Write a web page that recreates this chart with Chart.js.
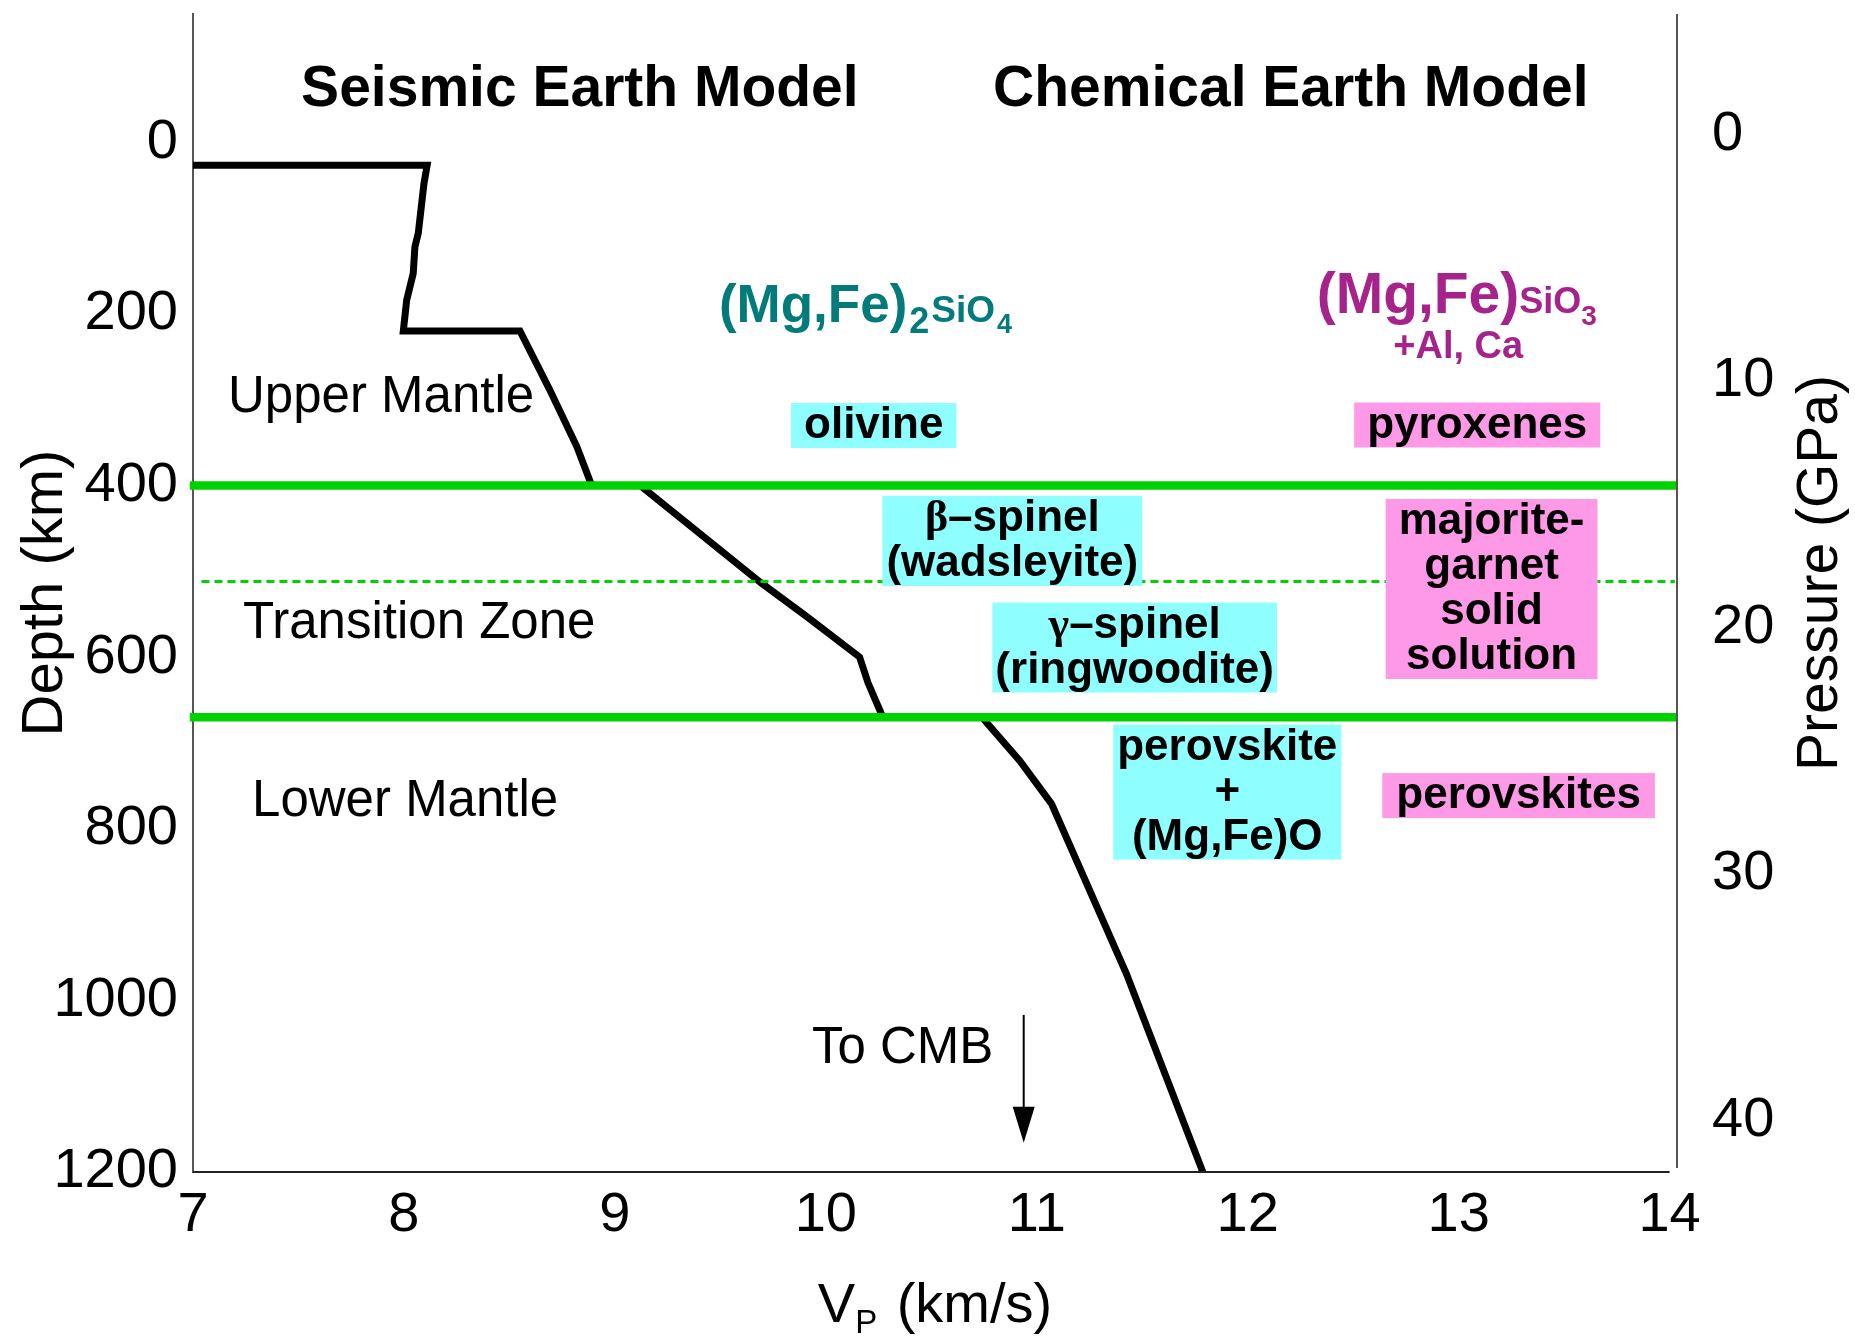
<!DOCTYPE html>
<html>
<head>
<meta charset="utf-8">
<title>Seismic and Chemical Earth Model</title>
<script src="https://cdn.jsdelivr.net/npm/chart.js@4.4.1/dist/chart.umd.min.js"></script>
<style>
  html, body { margin: 0; padding: 0; background: #ffffff; }
  canvas { display: block; }
</style>
</head>
<body>
<canvas id="chart" width="1855" height="1339"></canvas>
<script>
// ---- P-wave velocity profile through the upper ~1200 km ----
const vpProfile    = [7.00, 8.11, 8.095, 8.068, 8.052, 8.044, 8.013, 7.997, 8.55, 8.69, 8.82, 8.89, 9.12, 9.69, 9.905, 10.16, 10.20, 10.27, 10.74, 10.92, 11.07, 11.425, 11.787];
const depthProfile = [27,   27,   48,    106,   122,   153,   184,   220,   220,  288,  355,  400,  400,  513,  552,   600,   630,   670,   670,   721,   771,   969,    1200];

// Seismic discontinuities (km)
const majorDiscontinuities = [400, 670];
const minorDiscontinuities = [512];

// Axis ticks
const vpTicks       = [7, 8, 9, 10, 11, 12, 13, 14];
const depthTicks    = [0, 200, 400, 600, 800, 1000, 1200];
const pressureTicks = [0, 10, 20, 30, 40];

// Mineral phases, olivine-type (Mg,Fe)2SiO4 and pyroxene-type (Mg,Fe)SiO3
const olivinePhases  = [['olivine'], ['β–spinel', '(wadsleyite)'], ['γ–spinel', '(ringwoodite)'], ['perovskite', '+', '(Mg,Fe)O']];
const pyroxenePhases = [['pyroxenes'], ['majorite-', 'garnet', 'solid', 'solution'], ['perovskites']];

// Zone names
const zoneNames = ['Upper Mantle', 'Transition Zone', 'Lower Mantle'];

// ---- styling / layout ----
const SANS  = '"Liberation Sans", Arial, Helvetica, sans-serif';
const SERIF = '"Liberation Serif", "Times New Roman", serif';
const GREEN = '#00d200';
const CYAN  = '#8ffefe';
const PINK  = '#fd99e6';
const TEAL  = '#047b7b';
const PLUM  = '#a6238c';
const LINE_H = 45;

const VP_MIN = 7, VP_EDGE = 14.035;
const DEPTH_TOP = -149.3, DEPTH_BOTTOM = 1200;
const P_TOP = -4.87, P_BOTTOM = 42.09;

// split a phase line so Greek letters use a serif face
function phaseSegments(text) {
  const segs = [];
  for (const ch of text) {
    const greek = /[α-ωΑ-Ω]/.test(ch);
    const font = greek ? `bold 44px ${SERIF}` : `bold 44px ${SANS}`;
    const last = segs[segs.length - 1];
    if (last && last.f === font) last.t += ch; else segs.push({ t: ch, f: font });
  }
  return segs;
}

// placement of the phase boxes (centre in km/s, km) and side padding
const boxPlacement = [
  { lines: olivinePhases[0],  at: [10.227, 330.2], padX: 13, fill: CYAN },
  { lines: olivinePhases[1],  at: [10.884, 464.8], padX: 4,  fill: CYAN },
  { lines: olivinePhases[2],  at: [11.464, 588.9], padX: 3,  fill: CYAN },
  { lines: olivinePhases[3],  at: [11.903, 757.3], padX: 4,  fill: CYAN },
  { lines: pyroxenePhases[0], at: [13.088, 329.6], padX: 13, fill: PINK },
  { lines: pyroxenePhases[1], at: [13.156, 520.7], padX: 13, fill: PINK },
  { lines: pyroxenePhases[2], at: [13.284, 761.4], padX: 14, fill: PINK }
];

// free text labels anchored in data space (km/s, km) at the text baseline
const textPlacement = [
  { segs: [{ t: 'Seismic Earth Model', f: `bold 57px ${SANS}` }], at: [8.834, -42.1], align: 'center', color: '#000' },
  { segs: [{ t: 'Chemical Earth Model', f: `bold 57px ${SANS}` }], at: [12.204, -42.1], align: 'center', color: '#000' },
  { segs: [{ t: zoneNames[0], f: `51px ${SANS}` }], at: [7.166, 314.5], align: 'left', color: '#000' },
  { segs: [{ t: zoneNames[1], f: `51px ${SANS}` }], at: [7.237, 577.8], align: 'left', color: '#000' },
  { segs: [{ t: zoneNames[2], f: `51px ${SANS}` }], at: [7.280, 785.3], align: 'left', color: '#000' },
  { segs: [{ t: 'To CMB', f: `51px ${SANS}` }], at: [9.934, 1073.1], align: 'left', color: '#000' },
  { segs: [
      { t: '(Mg,Fe)', f: `bold 53px ${SANS}` },
      { t: '2', f: `bold 36px ${SANS}`, dx: 2, dy: 11 },
      { t: 'SiO', f: `bold 37px ${SANS}`, dx: 2 },
      { t: '4', f: `bold 27px ${SANS}`, dx: 2, dy: 11 }
    ], at: [9.493, 209.6], align: 'left', color: TEAL },
  { segs: [
      { t: '(Mg,Fe)', f: `bold 57px ${SANS}` },
      { t: 'SiO', f: `bold 36px ${SANS}` },
      { t: '3', f: `bold 28px ${SANS}`, dy: 12 }
    ], at: [12.991, 199.1], align: 'center', color: PLUM },
  { segs: [{ t: '+Al, Ca', f: `bold 38px ${SANS}` }], at: [12.998, 251.6], align: 'center', color: PLUM }
];

const cmbArrow = { vp: 10.938, from: 1017, to: 1166 };

function richWidth(ctx, segs) {
  let w = 0;
  for (const s of segs) { ctx.font = s.f; w += ctx.measureText(s.t).width + (s.dx || 0); }
  return w;
}
function drawRich(ctx, segs, x, y, align, color) {
  const total = richWidth(ctx, segs);
  let cx = align === 'center' ? x - total / 2 : (align === 'right' ? x - total : x);
  ctx.fillStyle = color;
  ctx.textAlign = 'left';
  ctx.textBaseline = 'alphabetic';
  for (const s of segs) {
    ctx.font = s.f;
    cx += (s.dx || 0);
    ctx.fillText(s.t, cx, y + (s.dy || 0));
    cx += ctx.measureText(s.t).width;
  }
}

// keep the plot area edges exactly where the axes are sized to put them
function noLabelPadding(s) {
  s.paddingTop = 0; s.paddingBottom = 0; s.paddingLeft = 0; s.paddingRight = 0;
}

const overlay = {
  id: 'overlay',
  afterDatasetsDraw(chart) {
    const { ctx, chartArea, scales } = chart;
    const px = v => scales.x.getPixelForValue(v);
    const py = d => scales.y.getPixelForValue(d);
    ctx.save();

    // frame: bottom axis up to the last tick, separate right edge line
    ctx.lineWidth = 2;
    ctx.strokeStyle = '#222';
    ctx.beginPath();
    ctx.moveTo(chartArea.left, chartArea.bottom);
    ctx.lineTo(px(vpTicks[vpTicks.length - 1]), chartArea.bottom);
    ctx.stroke();
    ctx.strokeStyle = '#555';
    ctx.beginPath();
    ctx.moveTo(chartArea.right, chartArea.top);
    ctx.lineTo(chartArea.right, chartArea.bottom - 4);
    ctx.stroke();

    // phase boxes
    for (const b of boxPlacement) {
      const segLines = b.lines.map(phaseSegments);
      const w = Math.max(...segLines.map(l => richWidth(ctx, l))) + 2 * b.padX;
      const h = segLines.length * LINE_H;
      const cx = px(b.at[0]), cy = py(b.at[1]);
      const top = cy - h / 2;
      ctx.fillStyle = b.fill;
      ctx.fillRect(cx - w / 2, top, w, h);
      segLines.forEach((l, i) => drawRich(ctx, l, cx, top + 35 + i * LINE_H, 'center', '#000'));
    }

    // text labels
    for (const t of textPlacement) {
      drawRich(ctx, t.segs, px(t.at[0]), py(t.at[1]), t.align, t.color);
    }

    // arrow pointing down towards the core-mantle boundary
    const ax = px(cmbArrow.vp), ay0 = py(cmbArrow.from), ay1 = py(cmbArrow.to);
    ctx.strokeStyle = '#000';
    ctx.fillStyle = '#000';
    ctx.lineWidth = 2;
    ctx.beginPath();
    ctx.moveTo(ax, ay0);
    ctx.lineTo(ax, ay1 - 30);
    ctx.stroke();
    ctx.beginPath();
    ctx.moveTo(ax - 11, ay1 - 36);
    ctx.lineTo(ax + 11, ay1 - 36);
    ctx.lineTo(ax, ay1);
    ctx.closePath();
    ctx.fill();

    // x-axis title with subscript
    drawRich(ctx, [
      { t: 'V', f: `56px ${SANS}` },
      { t: 'P', f: `33px ${SANS}`, dy: 11 },
      { t: ' (km/s)', f: `56px ${SANS}`, dx: 4 }
    ], (chartArea.left + chartArea.right) / 2, chartArea.bottom + 150, 'center', '#000');

    // right axis title, reading bottom to top
    const r = scales.y2;
    ctx.save();
    ctx.translate(r.right - 34, (chartArea.top + chartArea.bottom) / 2 - 20);
    ctx.rotate(-Math.PI / 2);
    ctx.font = `57px ${SANS}`;
    ctx.fillStyle = '#000';
    ctx.textAlign = 'center';
    ctx.textBaseline = 'middle';
    ctx.fillText('Pressure (GPa)', 0, 0);
    ctx.restore();

    ctx.restore();
  }
};

const tickFont = { family: SANS, size: 56 };

new Chart(document.getElementById('chart'), {
  type: 'scatter',
  data: {
    datasets: [
      {
        label: 'Vp',
        data: vpProfile.map((v, i) => ({ x: v, y: depthProfile[i] })),
        showLine: true,
        borderColor: '#000',
        borderWidth: 7,
        borderJoinStyle: 'miter',
        pointRadius: 0,
        tension: 0,
        clip: false,
        order: 2
      },
      ...majorDiscontinuities.map(d => ({
        label: d + ' km',
        data: [{ x: VP_MIN - 0.015, y: d }, { x: VP_EDGE, y: d }],
        showLine: true,
        borderColor: GREEN,
        borderWidth: 8.5,
        pointRadius: 0,
        clip: false,
        order: 0
      })),
      ...minorDiscontinuities.map(d => ({
        label: d + ' km',
        data: [{ x: VP_MIN + 0.04, y: d }, { x: VP_EDGE - 0.01, y: d }],
        showLine: true,
        borderColor: GREEN,
        borderWidth: 3,
        borderDash: [8, 5],
        pointRadius: 0,
        clip: false,
        order: 0
      }))
    ]
  },
  options: {
    responsive: false,
    animation: false,
    devicePixelRatio: 1,
    events: [],
    layout: { padding: { top: 14, left: 0, right: 0, bottom: 0 } },
    plugins: { legend: { display: false }, tooltip: { enabled: false } },
    scales: {
      x: {
        type: 'linear',
        position: 'bottom',
        min: VP_MIN,
        max: VP_EDGE,
        grid: { display: false, drawTicks: false },
        border: { display: false },
        ticks: { font: tickFont, color: '#000', padding: 10, autoSkip: false, maxRotation: 0, callback: v => String(v) },
        afterBuildTicks: s => { s.ticks = vpTicks.map(v => ({ value: v })); },
        afterFit: s => { s.height = 167; noLabelPadding(s); }
      },
      y: {
        type: 'linear',
        position: 'left',
        reverse: true,
        min: DEPTH_TOP,
        max: DEPTH_BOTTOM,
        grid: { display: false, drawTicks: false },
        border: { display: true, color: '#555', width: 2 },
        ticks: { font: tickFont, color: '#000', padding: 15, autoSkip: false, callback: v => String(v) },
        afterBuildTicks: s => { s.ticks = depthTicks.map(v => ({ value: v })); },
        afterFit: s => { s.width = 193; noLabelPadding(s); },
        title: { display: true, text: 'Depth (km)', color: '#000', font: { family: SANS, size: 58 }, padding: { top: 11, bottom: 0 } }
      },
      y2: {
        type: 'linear',
        position: 'right',
        reverse: true,
        min: P_TOP,
        max: P_BOTTOM,
        grid: { display: false, drawTicks: false },
        border: { display: false },
        ticks: { font: tickFont, color: '#000', padding: 35, autoSkip: false, callback: v => String(v) },
        afterBuildTicks: s => { s.ticks = pressureTicks.map(v => ({ value: v })); },
        afterFit: s => { s.width = 178; noLabelPadding(s); }
      }
    }
  },
  plugins: [overlay]
});
</script>
</body>
</html>
